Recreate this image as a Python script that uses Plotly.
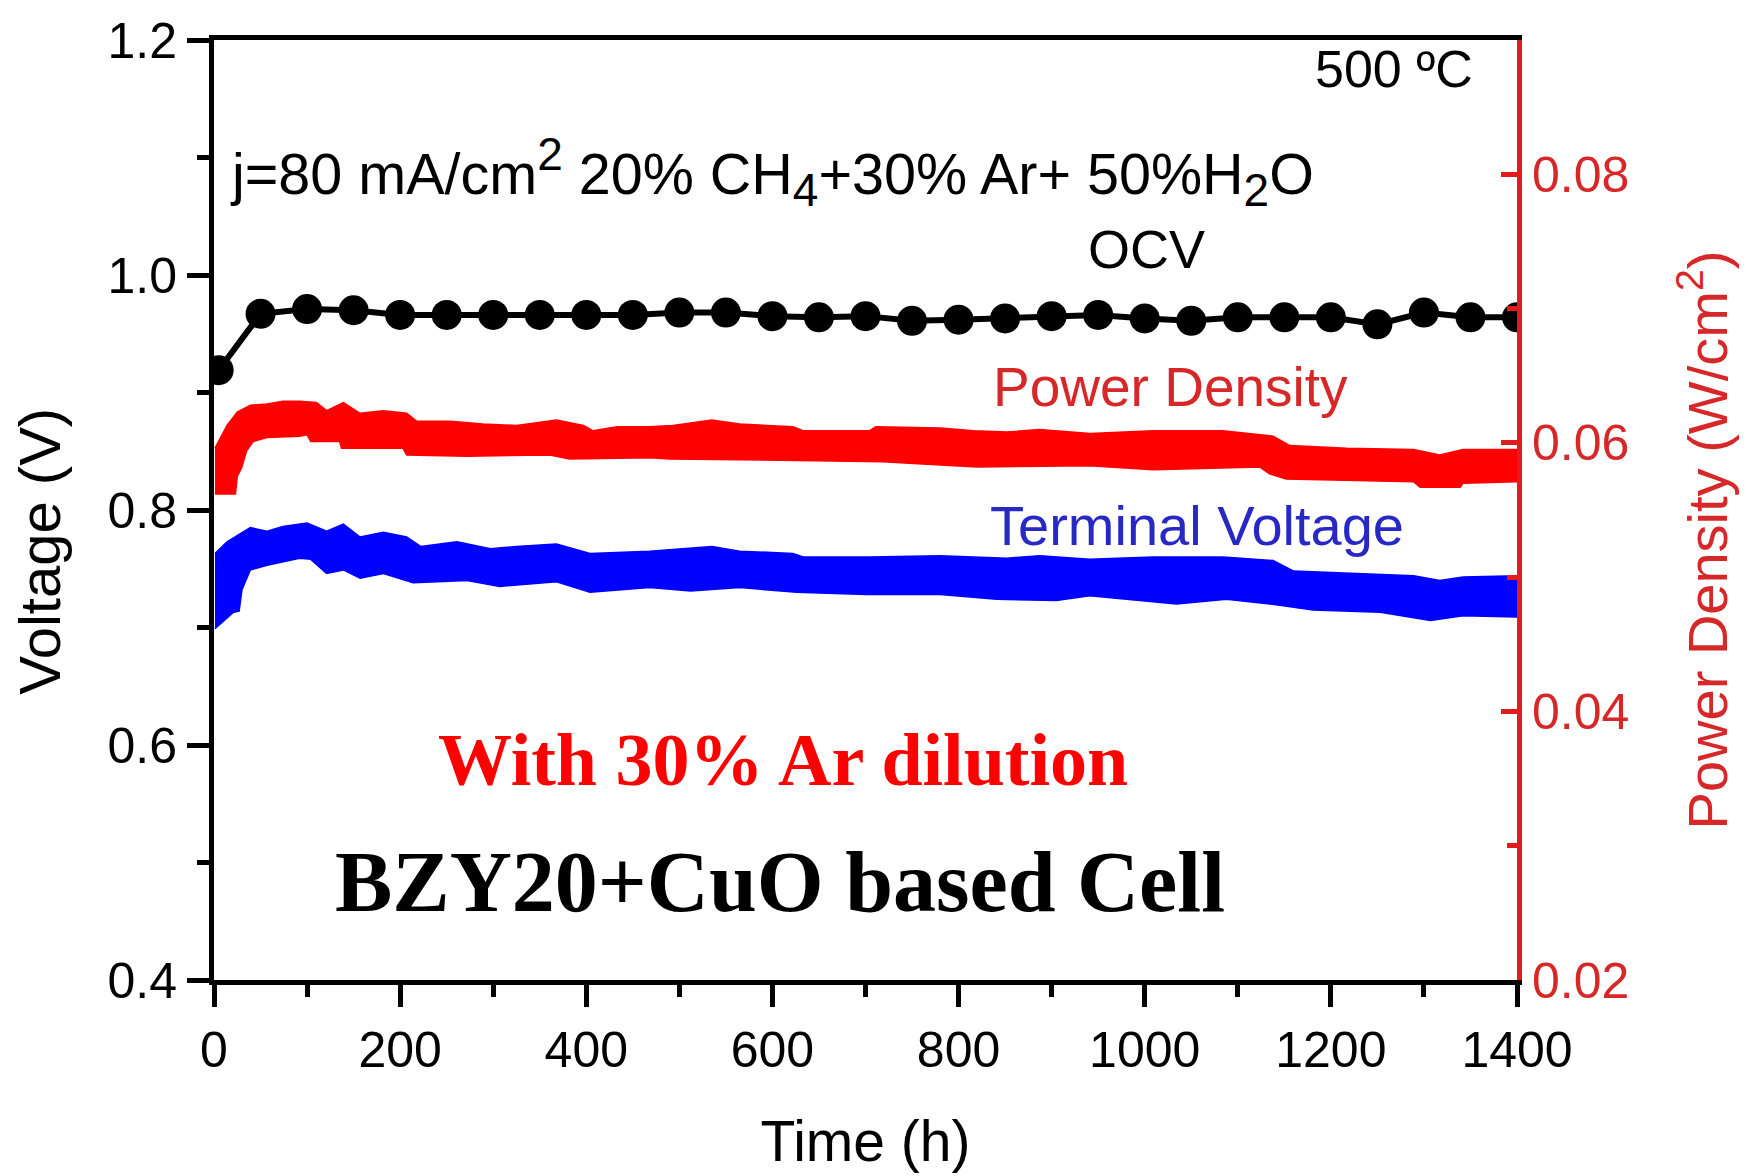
import plotly.graph_objects as go

# ---------------- data ----------------
ocv_t = [5, 50, 100, 150, 200, 250, 300, 350, 400, 450, 500, 550, 600, 650, 700,
         750, 800, 850, 900, 950, 1000, 1050, 1100, 1150, 1200, 1250, 1300, 1350, 1400]
ocv_v = [0.919, 0.967, 0.971, 0.970, 0.966, 0.966, 0.966, 0.966, 0.966, 0.966, 0.968,
         0.968, 0.965, 0.964, 0.965, 0.961, 0.962, 0.963, 0.965, 0.966, 0.963, 0.961,
         0.964, 0.964, 0.964, 0.958, 0.968, 0.964, 0.964]

# Power density band (upper / lower envelope), W/cm^2
pd_up_t = [1, 14, 25, 39, 57, 74, 92, 110, 121, 139, 157, 182, 207, 218, 254, 289, 325,
           368, 397, 407, 433, 468, 493, 535, 565, 622, 633, 704, 711, 780, 816, 852,
           887, 941, 1009, 1084, 1138, 1156, 1217, 1289, 1317, 1342, 1400]
pd_up = [0.0596, 0.0613, 0.0623, 0.0628, 0.0629, 0.0631, 0.0631, 0.0630, 0.0624, 0.0630,
         0.0622, 0.0624, 0.0622, 0.0616, 0.0616, 0.0614, 0.0613, 0.0617, 0.0613, 0.0609,
         0.0612, 0.0612, 0.0613, 0.0617, 0.0614, 0.0612, 0.0609, 0.0609, 0.0612, 0.0611,
         0.0609, 0.0608, 0.0610, 0.0607, 0.0609, 0.0609, 0.0605, 0.0598, 0.0596, 0.0595,
         0.0591, 0.0595, 0.0595]
pd_lo_t = [1, 23, 25, 30, 35, 42, 57, 92, 100, 104, 135, 137, 203, 207, 272, 361, 382,
           468, 490, 608, 719, 766, 820, 941, 1009, 1124, 1134, 1152, 1289, 1296, 1339,
           1342, 1400]
pd_lo = [0.0562, 0.0562, 0.0575, 0.0582, 0.0594, 0.0601, 0.0604, 0.0605, 0.0606, 0.0601,
         0.0601, 0.0596, 0.0596, 0.0591, 0.0590, 0.0591, 0.0588, 0.0589, 0.0588, 0.0587,
         0.0586, 0.0584, 0.0582, 0.0583, 0.0580, 0.0582, 0.0577, 0.0573, 0.0571, 0.0567,
         0.0567, 0.0570, 0.0571]

# Terminal voltage band (upper / lower envelope), V
tv_up_t = [1, 14, 39, 57, 74, 100, 121, 139, 157, 182, 207, 222, 261, 297, 325, 368, 404,
           468, 535, 565, 622, 633, 704, 780, 852, 887, 941, 1009, 1084, 1138, 1160, 1217,
           1289, 1317, 1342, 1400]
tv_up = [0.763, 0.773, 0.785, 0.782, 0.786, 0.789, 0.782, 0.788, 0.777, 0.781, 0.777,
         0.769, 0.773, 0.767, 0.769, 0.771, 0.763, 0.765, 0.769, 0.765, 0.763, 0.760,
         0.760, 0.761, 0.759, 0.761, 0.758, 0.760, 0.760, 0.757, 0.748, 0.746, 0.744,
         0.740, 0.743, 0.744]
tv_lo_t = [1, 21, 27, 30, 39, 57, 92, 104, 121, 139, 157, 182, 214, 272, 307, 368, 404,
           468, 512, 565, 626, 701, 780, 841, 905, 941, 1034, 1088, 1145, 1181, 1253,
           1307, 1342, 1400]
tv_lo = [0.699, 0.713, 0.714, 0.732, 0.749, 0.753, 0.759, 0.758, 0.746, 0.749, 0.742,
         0.746, 0.738, 0.740, 0.735, 0.739, 0.730, 0.734, 0.731, 0.734, 0.730, 0.728,
         0.728, 0.724, 0.723, 0.727, 0.720, 0.724, 0.719, 0.715, 0.713, 0.706, 0.710,
         0.709]

x_ticks = [0, 200, 400, 600, 800, 1000, 1200, 1400]
y_ticks = [0.4, 0.6, 0.8, 1.0, 1.2]
y2_ticks = [0.02, 0.04, 0.06, 0.08]

# ---------------- styles ----------------
SANS = "Liberation Sans, Arial, sans-serif"
SERIF = "Liberation Serif, Times New Roman, serif"
AXRED = "rgb(226,28,28)"
TXTRED = "rgb(214,40,40)"
TXTBLUE = "rgb(40,40,196)"
LW = 5

fig = go.Figure()

fig.add_trace(go.Scatter(
    x=pd_up_t + pd_lo_t[::-1], y=pd_up + pd_lo[::-1],
    fill="toself", fillcolor="#ff0000", mode="lines",
    line=dict(color="#ff0000", width=1.5), yaxis="y2", showlegend=False,
    hoverinfo="skip"))

fig.add_trace(go.Scatter(
    x=tv_up_t + tv_lo_t[::-1], y=tv_up + tv_lo[::-1],
    fill="toself", fillcolor="#0000ff", mode="lines",
    line=dict(color="#0000ff", width=1.5), showlegend=False, hoverinfo="skip"))

fig.add_trace(go.Scatter(
    x=ocv_t, y=ocv_v, mode="lines+markers",
    line=dict(color="black", width=6),
    marker=dict(color="black", size=30), showlegend=False))

tickfont = dict(family=SANS, size=50, color="black")

fig.update_layout(
    width=1746, height=1176,
    margin=dict(l=214, r=229, t=33, b=179),
    paper_bgcolor="white", plot_bgcolor="white",
    xaxis=dict(
        range=[0, 1400], tickvals=x_ticks, ticks="outside", ticklen=22, tickwidth=LW,
        tickcolor="black", showline=True, linewidth=LW, linecolor="black", mirror=True,
        showgrid=False, zeroline=False, tickfont=tickfont,
        minor=dict(dtick=100, ticks="outside", ticklen=12, tickwidth=LW, tickcolor="black"),
        title=dict(text="Time (h)", font=dict(family=SANS, size=57, color="black"),
                   standoff=46)),
    yaxis=dict(
        range=[0.4, 1.2], tickvals=y_ticks, tickformat=".1f", ticks="outside",
        ticklen=22, tickwidth=LW, tickcolor="black", showline=True, linewidth=LW,
        linecolor="black", showgrid=False, zeroline=False, tickfont=tickfont,
        minor=dict(dtick=0.1, ticks="outside", ticklen=12, tickwidth=LW, tickcolor="black")),
    yaxis2=dict(
        range=[0.02, 0.09], tickvals=y2_ticks, tickformat=".2f", overlaying="y",
        side="right", ticks="inside", ticklen=16, tickwidth=LW, tickcolor=AXRED,
        showline=True, linewidth=LW, linecolor=AXRED, showgrid=False, zeroline=False,
        tickfont=dict(family=SANS, size=50, color=TXTRED),
        minor=dict(dtick=0.01, ticks="inside", ticklen=10, tickwidth=LW, tickcolor=AXRED)),
)

SUP = '<span style="font-size:46px">'
ann = [
    dict(x=1355, y=1.1755, text="500 ºC", xanchor="right", yanchor="middle",
         font=dict(family=SANS, size=52, color="black")),
    dict(x=15, y=1.088,
         text=("j=80 mA/cm<sup>" + SUP + "2</span></sup> 20% CH<sub>" + SUP + "4</span></sub>"
               "+30% Ar+ 50%H<sub>" + SUP + "2</span></sub>O"),
         xanchor="left", yanchor="middle", font=dict(family=SANS, size=57.5, color="black")),
    dict(x=1002, y=1.022, text="OCV", xanchor="center", yanchor="middle",
         font=dict(family=SANS, size=54, color="black")),
    dict(x=1028, y=0.905, text="Power Density", xanchor="center", yanchor="middle",
         font=dict(family=SANS, size=55, color=TXTRED)),
    dict(x=1056, y=0.787, text="Terminal Voltage", xanchor="center", yanchor="middle",
         font=dict(family=SANS, size=56, color=TXTBLUE)),
    dict(x=611, y=0.587, text="<b>With 30% Ar dilution</b>", xanchor="center",
         yanchor="middle", font=dict(family=SERIF, size=74, color="#ff0000")),
    dict(x=608, y=0.483, text="<b>BZY20+CuO based Cell</b>", xanchor="center",
         yanchor="middle", font=dict(family=SERIF, size=86, color="black")),
]
for a in ann:
    a.update(xref="x", yref="y", showarrow=False)

# rotated axis titles (placed as in the reference, slightly below axis centre)
ann.append(dict(xref="paper", yref="paper", x=-0.134, y=0.456, text="Voltage (V)",
                textangle=-90, showarrow=False, xanchor="center", yanchor="middle",
                font=dict(family=SANS, size=58, color="black")))
ann.append(dict(xref="paper", yref="paper", x=1.143, y=0.468,
                text="Power Density (W/cm<sup>2</sup>)", textangle=-90, showarrow=False,
                xanchor="center", yanchor="middle",
                font=dict(family=SANS, size=56, color=TXTRED)))
fig.update_layout(annotations=ann)

fig.write_html("out.html")
